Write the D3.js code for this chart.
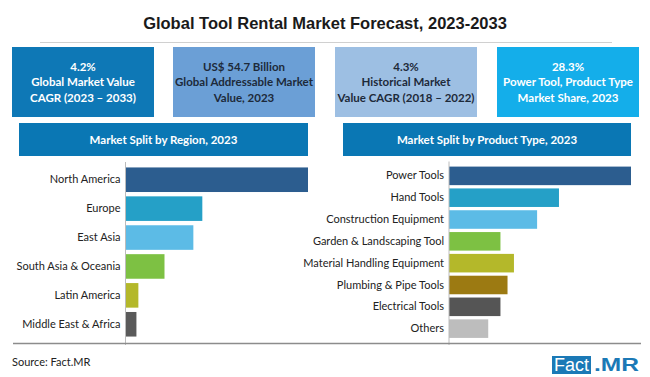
<!DOCTYPE html>
<html>
<head>
<meta charset="utf-8">
<script src="https://cdn.jsdelivr.net/npm/d3@7"></script>
<style>
  body { margin: 0; background: #fff; }
  svg { display: block; }
</style>
</head>
<body>
<div id="chart"></div>
<script>
// Global Tool Rental Market infographic

// KPI boxes
const kpiLines = [
  ['4.2%', 'Global Market Value', 'CAGR (2023 – 2033)'],
  ['US$ 54.7 Billion', 'Global Addressable Market', 'Value, 2023'],
  ['4.3%', 'Historical Market', 'Value CAGR (2018 – 2022)'],
  ['28.3%', 'Power Tool, Product Type', 'Market Share, 2023']
];

// Region split (share %)
const regions = ['North America', 'Europe', 'East Asia', 'South Asia & Oceania', 'Latin America', 'Middle East & Africa'];
const regionShare = [46.8, 19.7, 17.4, 10.0, 3.3, 2.8];

// Product type split (share %)
const products = ['Power Tools', 'Hand Tools', 'Construction Equipment', 'Garden & Landscaping Tool',
  'Material Handling Equipment', 'Plumbing & Pipe Tools', 'Electrical Tools', 'Others'];
const productShare = [28.3, 17.1, 13.7, 8.0, 10.1, 9.1, 8.0, 6.1];

const W = 650, H = 377;
const svg = d3.select('#chart').append('svg')
  .attr('width', W).attr('height', H);

const font = 'Lato, "Open Sans", sans-serif';

// Title
svg.append('text')
  .attr('x', W / 2).attr('y', 29)
  .attr('text-anchor', 'middle')
  .attr('font-family', '"Liberation Sans", Arial, sans-serif')
  .attr('font-weight', 'bold')
  .attr('font-size', 16.5)
  .attr('fill', '#1a1a1a')
  .text('Global Tool Rental Market Forecast, 2023-2033');

svg.append('line')
  .attr('x1', 40).attr('x2', 612).attr('y1', 42.5).attr('y2', 42.5)
  .attr('stroke', '#d0d0d0').attr('stroke-width', 1);

// KPI boxes
const boxX = [12, 173, 335, 497];
const boxFill = ['#0e78b6', '#6b9fd6', '#9dbfe3', '#14aeea'];
const boxText = ['#ffffff', '#1d2a3a', '#1d2a3a', '#ffffff'];

kpiLines.forEach((lines, i) => {
  const g = svg.append('g').attr('transform', `translate(${boxX[i]},47)`);
  g.append('rect').attr('width', 142).attr('height', 70).attr('fill', boxFill[i]);
  lines.forEach((t, j) => {
    g.append('text')
      .attr('x', 71).attr('y', 24 + j * 15.3)
      .attr('text-anchor', 'middle')
      .attr('font-family', font)
      .attr('font-weight', 'bold')
      .attr('font-size', 11.5)
      .attr('fill', boxText[i])
      .text(t);
  });
});

// Section headers
const headers = [
  { x: 19, w: 289, label: 'Market Split by Region, 2023' },
  { x: 343, w: 288, label: 'Market Split by Product Type, 2023' }
];
headers.forEach(h => {
  svg.append('rect').attr('x', h.x).attr('y', 123).attr('width', h.w).attr('height', 33)
    .attr('fill', '#0a77b4');
  svg.append('text')
    .attr('x', h.x + h.w / 2).attr('y', 143.5)
    .attr('text-anchor', 'middle')
    .attr('font-family', font)
    .attr('font-weight', 'bold')
    .attr('font-size', 11.5)
    .attr('fill', '#fff')
    .text(h.label);
});

// Bar chart helper
function barChart(cats, vals, colors, x0, x1, y0, y1) {
  const x = d3.scaleLinear().domain([0, d3.max(vals)]).range([x0, x1]);
  const y = d3.scaleBand().domain(cats).range([y0, y1]).paddingInner(0.15).paddingOuter(0.05);
  const g = svg.append('g');

  g.selectAll('rect')
    .data(cats)
    .enter()
    .append('rect')
    .attr('x', x(0))
    .attr('y', d => y(d))
    .attr('width', (d, i) => x(vals[i]) - x(0))
    .attr('height', y.bandwidth())
    .attr('fill', (d, i) => colors[i]);

  const axis = d3.axisLeft(y).tickSize(0).tickPadding(5);
  const ax = g.append('g').attr('transform', `translate(${x0},0)`).call(axis);
  ax.select('.domain').remove();
  ax.selectAll('text')
    .attr('font-family', font)
    .attr('font-size', 11)
    .attr('fill', '#222');

  g.append('line')
    .attr('x1', x0).attr('x2', x0).attr('y1', y0 - 4).attr('y2', 345)
    .attr('stroke', '#bcbcbc').attr('stroke-width', 1);
}

barChart(regions, regionShare,
  ['#2c5d8f', '#25a0c7', '#5cbbe6', '#7dc143', '#b4b82a', '#5a5a5a'],
  125.5, 308, 166, 338);

barChart(products, productShare,
  ['#2c5d8f', '#25a0c7', '#5cbbe6', '#7dc143', '#b4b82a', '#9c7a12', '#555555', '#bdbdbd'],
  449, 631, 165.5, 339);

// Bottom rule
svg.append('line')
  .attr('x1', 13).attr('x2', 641).attr('y1', 343.5).attr('y2', 343.5)
  .attr('stroke', '#8c8c8c').attr('stroke-width', 1.3);

// Footer
svg.append('text')
  .attr('x', 12).attr('y', 366)
  .attr('font-family', font)
  .attr('font-size', 11)
  .attr('fill', '#222')
  .text('Source: Fact.MR');

// Logo
svg.append('rect').attr('x', 552).attr('y', 356).attr('width', 39).attr('height', 18)
  .attr('fill', '#1b79b6');
svg.append('text')
  .attr('x', 554).attr('y', 371)
  .attr('textLength', 35).attr('lengthAdjust', 'spacingAndGlyphs')
  .attr('font-family', '"Liberation Sans", Arial, sans-serif')
  .attr('font-size', 18)
  .attr('fill', '#fff')
  .text('Fact');
svg.append('text')
  .attr('x', 594).attr('y', 371)
  .attr('textLength', 45).attr('lengthAdjust', 'spacingAndGlyphs')
  .attr('font-family', '"Liberation Sans", Arial, sans-serif')
  .attr('font-weight', 'bold')
  .attr('font-size', 18)
  .attr('fill', '#1b79b6')
  .text('.MR');
</script>
</body>
</html>
